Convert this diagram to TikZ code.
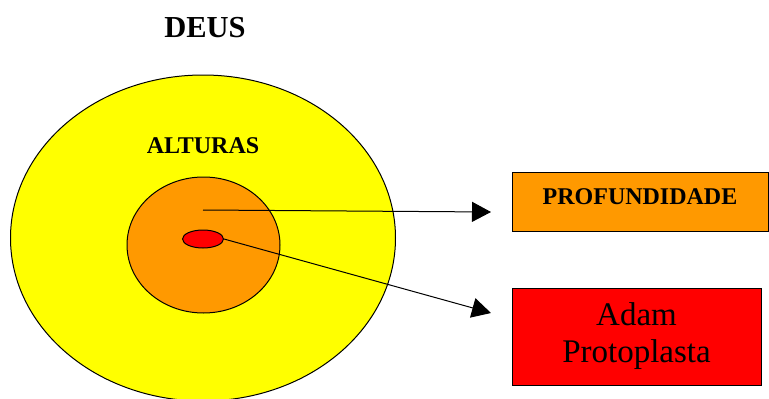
\documentclass[tikz,border=0pt]{standalone}
\usepackage{fontspec}
\setmainfont{Liberation Serif}
\usepackage{xcolor}
\usetikzlibrary{positioning, shapes.geometric, arrows.meta}

\definecolor{sunyellow}{RGB}{255,255,0}
\definecolor{deeporange}{RGB}{255,153,0}
\definecolor{adamred}{RGB}{255,0,0}

\tikzset{
    ring/.style={draw, ellipse, line width=1pt, inner sep=0pt},
    labelbox/.style={draw, line width=1pt, inner sep=0pt, align=center},
    pointer/.style={line width=1pt, -{Triangle[length=19pt,width=20pt]}}
}

\begin{document}
\begin{tikzpicture}[x=1pt, y=-1pt]
    \useasboundingbox (0,0) rectangle (769,399);

    % Nested circles
    \node[ring, fill=sunyellow, minimum width=385pt, minimum height=326pt] (alt) at (203,238) {};
    \node[ring, fill=deeporange, minimum width=153pt, minimum height=136pt] (prof) at (203.5,245) {};
    \node[ring, fill=adamred, minimum width=41pt, minimum height=18pt] (adam) at (203,239) {};

    % Titles
    \node[font=\fontsize{30.5}{36}\selectfont\bfseries] (deus) at (205,28) {DEUS};
    \node[font=\fontsize{24}{28}\selectfont\bfseries] (alturas) at (203,146) {ALTURAS};

    % Boxes on the right
    \node[labelbox, fill=deeporange, minimum width=256pt, minimum height=59pt, text depth=10pt,
        font=\fontsize{24}{28}\selectfont\bfseries] (b1) at (640,201.5) {PROFUNDIDADE};
    \node[labelbox, fill=adamred, minimum width=249pt, minimum height=97pt,
        font=\fontsize{33}{37}\selectfont] (b2) at (636.5,336.5) {Adam\\Protoplasta};

    % Arrows
    \coordinate (p1) at (203,210);
    \coordinate (t1) at (491,212);
    \coordinate (t2) at (491,313);
    \draw[pointer] (p1) -- (t1);
    \draw[pointer] (adam.east) -- (t2);
\end{tikzpicture}
\end{document}
